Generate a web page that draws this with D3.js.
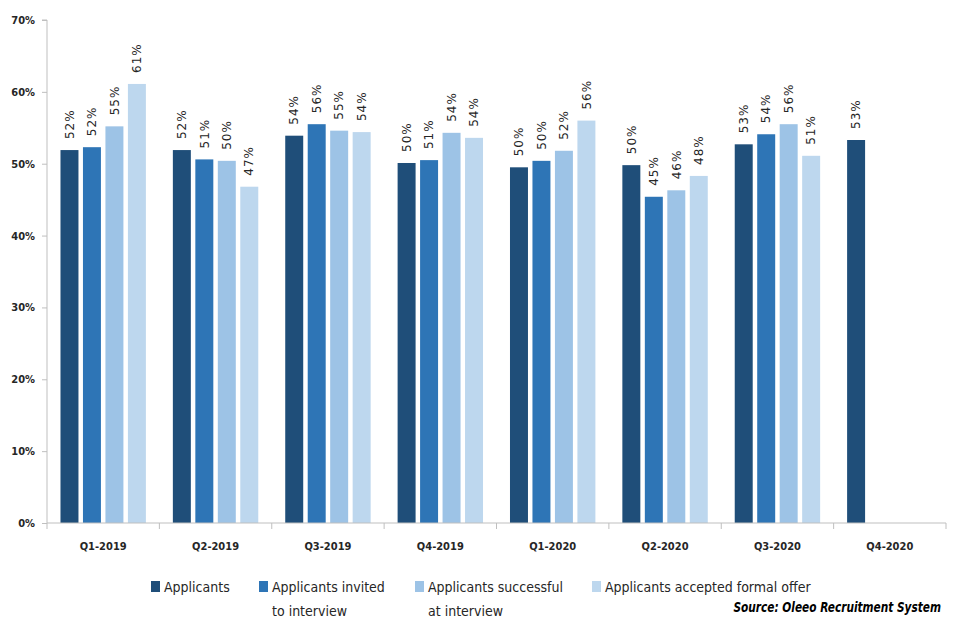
<!DOCTYPE html>
<html><head><meta charset="utf-8">
<script src="https://cdn.jsdelivr.net/npm/d3@7"></script>
<style>body{margin:0;background:#fff}svg{display:block}</style>
</head><body>
<svg id="c" width="960" height="640"></svg>
<script>
const quarters = ["Q1-2019","Q2-2019","Q3-2019","Q4-2019","Q1-2020","Q2-2020","Q3-2020","Q4-2020"];
const seriesNames = ["Applicants","Applicants invited to interview","Applicants successful at interview","Applicants accepted formal offer"];
const applicants = [51.9, 51.9, 53.9, 50.1, 49.5, 49.8, 52.7, 53.3];
const invited    = [52.3, 50.6, 55.5, 50.5, 50.4, 45.4, 54.1, null];
const successful = [55.2, 50.4, 54.6, 54.3, 51.8, 46.3, 55.5, null];
const accepted   = [61.1, 46.8, 54.4, 53.6, 56.0, 48.3, 51.1, null];
const yTicks = [0,10,20,30,40,50,60,70];
const colors = ["#1F4E79","#2E75B6","#9DC3E6","#BDD7EE"];

const svg = d3.select("#c");
const L = 47, R = 946, T = 20, B = 523;
const x0 = d3.scaleBand().domain(quarters).range([L, R]);
const x1 = d3.scaleBand().domain(d3.range(4)).range([0, x0.bandwidth()]).paddingInner(0.2).paddingOuter(0.6);
const y = d3.scaleLinear().domain([0, 70]).range([B, T]);

const allSeries = [applicants, invited, successful, accepted];
const data = [];
quarters.forEach((q, i) => allSeries.forEach((s, j) => { if (s[i] != null) data.push({q, j, v: s[i]}); }));

const narrow = "'Liberation Sans Narrow','DejaVu Sans Condensed',sans-serif";

// y axis
const yAxis = d3.axisLeft(y).tickValues(yTicks).tickSize(5).tickFormat(d => d + "%");
const gy = svg.append("g").attr("transform", `translate(${L},0)`).call(yAxis);
gy.select(".domain").attr("stroke", "#BFBFBF").attr("d", `M-5,${T}H0V${B}`);
gy.selectAll(".tick line").attr("stroke", "#BFBFBF");
gy.selectAll(".tick text").attr("x", -12)
  .style("font-family", narrow)
  .style("font-weight", "bold").style("font-size", "11px").attr("fill", "#262626");

// bars
svg.append("g").selectAll("rect").data(data).join("rect")
  .attr("x", d => x0(d.q) + x1(d.j))
  .attr("width", x1.bandwidth())
  .attr("y", d => y(d.v))
  .attr("height", d => y(0) - y(d.v))
  .attr("fill", d => colors[d.j]);

// labels
svg.append("g").selectAll("text").data(data).join("text")
  .attr("transform", d => `translate(${x0(d.q) + x1(d.j) + x1.bandwidth()/2},${y(d.v) - 11}) rotate(-90)`)
  .attr("dy", "0.35em")
  .attr("text-anchor", "start")
  .style("font-family", "'DejaVu Sans',sans-serif")
  .style("font-size", "12px").style("letter-spacing", "1px")
  .attr("fill", "#262626")
  .text(d => Math.round(d.v) + "%");

// x axis
const gx = svg.append("g").attr("transform", `translate(0,${B})`);
gx.append("line").attr("x1", L).attr("x2", R).attr("stroke", "#BFBFBF");
gx.selectAll(".tk").data(quarters.concat(["end"])).join("line")
  .attr("x1", (d, i) => L + i * x0.step()).attr("x2", (d, i) => L + i * x0.step())
  .attr("y1", 0).attr("y2", 6).attr("stroke", "#BFBFBF");
gx.selectAll(".lb").data(quarters).join("text")
  .attr("x", d => x0(d) + x0.bandwidth()/2).attr("y", 27)
  .attr("text-anchor", "middle")
  .style("font-family", narrow)
  .style("font-weight", "bold").style("font-size", "11px").attr("fill", "#262626")
  .text(d => d);

// legend
const legend = [
  {x: 151, lines: ["Applicants"]},
  {x: 259, lines: ["Applicants invited", "to interview"]},
  {x: 415, lines: ["Applicants successful", "at interview"]},
  {x: 592, lines: ["Applicants accepted formal offer"]}
];
const lg = svg.append("g");
legend.forEach((it, i) => {
  lg.append("rect").attr("x", it.x).attr("y", 581).attr("width", 9).attr("height", 11).attr("fill", colors[i]);
  it.lines.forEach((t, k) => {
    lg.append("text").attr("x", it.x + 13).attr("y", 592 + k * 24)
      .style("font-family", narrow)
      .style("font-size", "14px").attr("fill", "#262626").text(t);
  });
});
svg.append("text").attr("transform", "translate(941,612) scale(0.84,1)").attr("text-anchor", "end")
  .style("font-family", narrow)
  .style("font-size", "14px").style("font-weight", "bold").style("font-style", "italic")
  .attr("fill", "#000").text("Source: Oleeo Recruitment System");
</script>
</body></html>
